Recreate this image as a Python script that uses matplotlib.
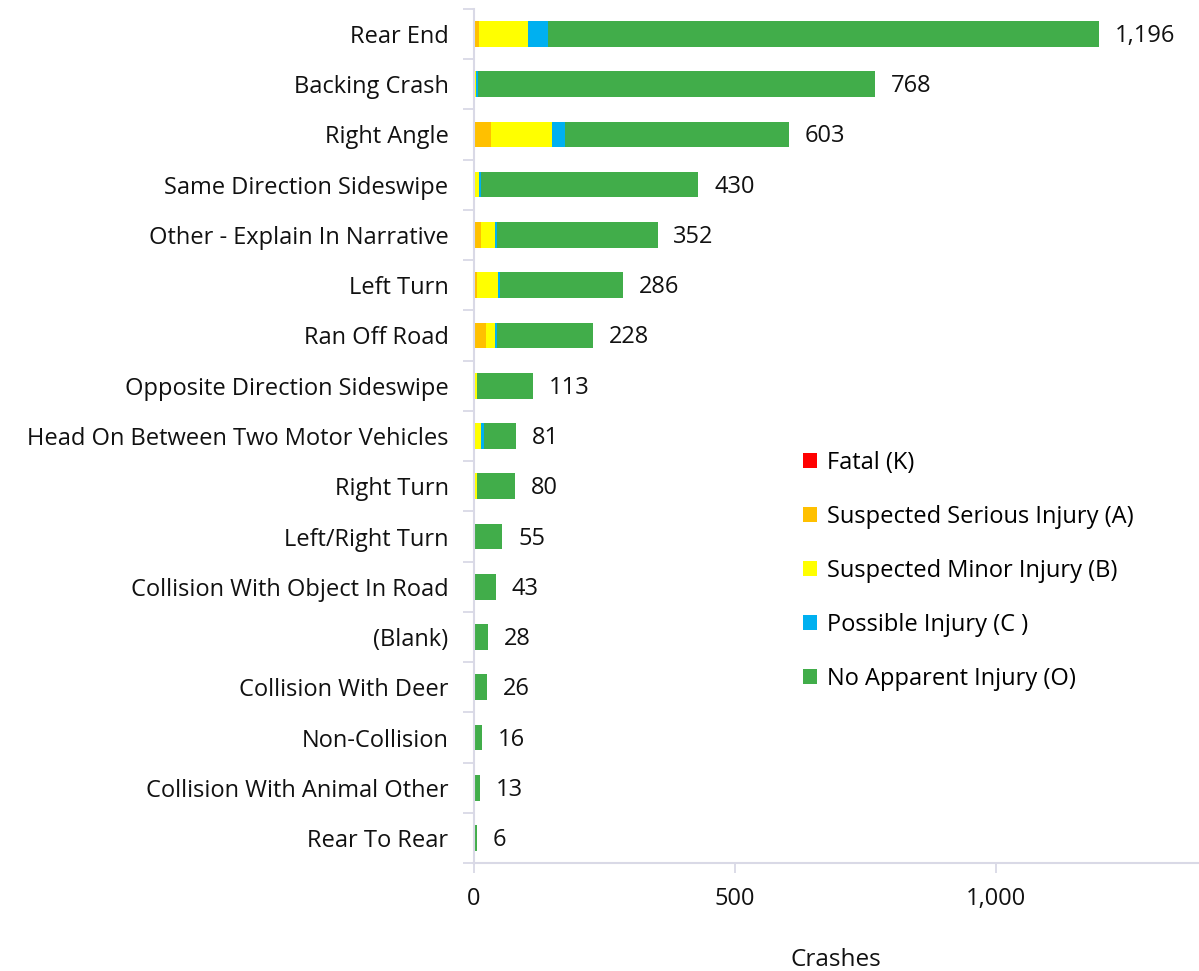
import matplotlib
matplotlib.use("Agg")
import matplotlib.pyplot as plt
from matplotlib.patches import Patch
from matplotlib.ticker import FuncFormatter, FixedLocator

plt.rcParams['font.family'] = ['Open Sans', 'DejaVu Sans']

categories = [
    "Rear End", "Backing Crash", "Right Angle", "Same Direction Sideswipe",
    "Other - Explain In Narrative", "Left Turn", "Ran Off Road",
    "Opposite Direction Sideswipe", "Head On Between Two Motor Vehicles",
    "Right Turn", "Left/Right Turn", "Collision With Object In Road",
    "(Blank)", "Collision With Deer", "Non-Collision",
    "Collision With Animal Other", "Rear To Rear",
]
fatal_k =       [0, 0, 2, 0, 0, 0, 0, 0, 0, 0, 0, 0, 0, 0, 0, 0, 0]
serious_a =     [11, 0, 32, 0, 15, 6, 23, 2, 2, 0, 0, 2, 0, 0, 0, 0, 0]
minor_b =       [94, 4, 116, 11, 25, 41, 17, 4, 13, 6, 2, 0, 0, 0, 2, 0, 0]
possible_c =    [37, 4, 25, 4, 4, 4, 4, 0, 4, 0, 0, 0, 0, 0, 0, 0, 0]
no_injury_o =   [1054, 760, 428, 415, 308, 235, 184, 107, 62, 74, 53, 41, 28, 26, 14, 13, 6]

series_names = ["Fatal (K)", "Suspected Serious Injury (A)",
                "Suspected Minor Injury (B)", "Possible Injury (C )",
                "No Apparent Injury (O)"]
series_values = [fatal_k, serious_a, minor_b, possible_c, no_injury_o]
series_colors = ["#FF0000", "#FFC000", "#FFFF00", "#00B0F0", "#41AD4A"]

FS = 17
fig = plt.figure(figsize=(11.99, 9.71), dpi=100)
ax = fig.add_axes([0.395, 0.111, 0.605, 0.880])

n = len(categories)
ypos = list(range(n))
left = [0] * n
for vals, col in zip(series_values, series_colors):
    ax.barh(ypos, vals, left=left, height=0.51, color=col, edgecolor='none')
    left = [l + v for l, v in zip(left, vals)]

totals = left
for y, t in zip(ypos, totals):
    ax.text(t + 30, y + 0.04, f"{t:,}", va='center', ha='left', fontsize=FS,
            color='#111111')

ax.set_ylim(n - 0.5, -0.5)
ax.set_xlim(0, 1388)
ax.set_yticks(ypos)
ax.set_yticklabels(categories, fontsize=FS, color='#111111')
ax.yaxis.set_minor_locator(FixedLocator([k + 0.5 for k in range(-1, n)]))
ax.tick_params(axis='y', which='major', length=0, pad=18)
ax.tick_params(axis='y', which='minor', length=8, color='#D9D9E6', width=1.3)

ax.set_xticks([0, 500, 1000])
ax.xaxis.set_major_formatter(FuncFormatter(lambda v, p: f"{int(v):,}"))
ax.tick_params(axis='x', length=7, color='#D9D9E6', width=1.3, labelsize=FS,
               pad=10, labelcolor='#111111')
ax.set_xlabel("Crashes", fontsize=FS + 0.5, labelpad=27, color='#111111')

for s in ['top', 'right']:
    ax.spines[s].set_visible(False)
for s in ['left', 'bottom']:
    ax.spines[s].set_color('#D9D9E6')
    ax.spines[s].set_linewidth(1.5)

handles = [Patch(facecolor=c, edgecolor='none') for c in series_colors]
fig.legend(handles, series_names, loc='upper left',
           bbox_to_anchor=(0.662, 0.545), frameon=False, fontsize=FS,
           handlelength=0.6, handleheight=0.6, handletextpad=0.4,
           labelspacing=1.27, borderaxespad=0)

fig.savefig("out.png", dpi=100)
